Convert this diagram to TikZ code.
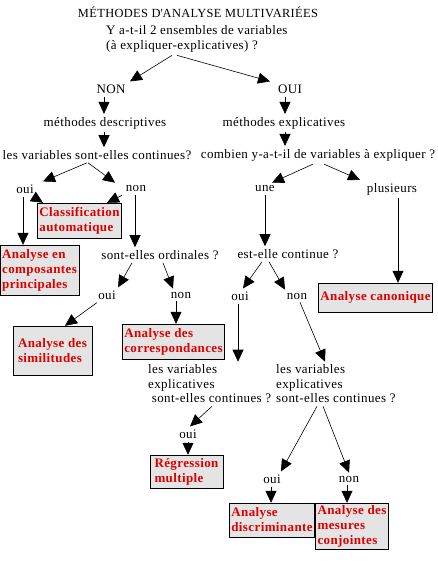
\documentclass[tikz,border=0pt]{standalone}
\usepackage{fontspec}
\setmainfont[LetterSpace=3]{Liberation Serif}
\usetikzlibrary{arrows.meta}
\definecolor{resred}{RGB}{222,0,0}
\definecolor{resfill}{RGB}{228,228,228}

\begin{document}
\begin{tikzpicture}[x=1pt, y=-1pt,
    font=\fontsize{13}{14.5}\selectfont,
    txt/.style={inner xsep=1pt, inner ysep=3pt},
    result/.style={draw=black, fill=resfill, text=resred, align=left,
                   inner sep=2pt, font=\fontsize{13}{15}\selectfont\bfseries},
    arr/.style={-{Triangle[length=12pt,width=11pt]}, semithick}
]
\useasboundingbox (0,0) rectangle (437,580);

\node[txt, font=\fontsize{12.4}{14}\selectfont] (titre) at (198,12) {MÉTHODES D\textquotesingle ANALYSE MULTIVARIÉES};
\node[txt, align=left, anchor=west] (q) at (105,39) {Y a-t-il 2 ensembles de variables\\(à expliquer-explicatives) ?};

\node[txt] (non) at (111,89) {NON};
\node[txt] (oui) at (290,89) {OUI};
\node[txt] (desc) at (105,123) {méthodes descriptives};
\node[txt] (expl) at (284,123) {méthodes explicatives};
\node[txt] (cont) at (97,155) {les variables sont-elles continues?};
\node[txt] (combien) at (318,155) {combien y-a-t-il de variables à expliquer ?};

\node[txt] (ouiA) at (25,189) {oui};
\node[txt] (nonA) at (136,189) {non};
\node[txt] (une) at (265,189) {une};
\node[txt] (plus) at (392,189) {plusieurs};

\node[result, minimum width=79, minimum height=35] (classif) at (79.5,220.5) {Classification\\automatique};
\node[result, minimum width=79, minimum height=50] (acp) at (39.5,270) {Analyse en\\composantes\\principales};
\node[txt] (ordin) at (160,255) {sont-elles ordinales ?};
\node[txt] (estcont) at (288,254) {est-elle continue ?};
\node[result, minimum width=113, minimum height=29] (canon) at (375.5,297.5) {Analyse canonique};

\node[txt] (ouiB) at (107,295) {oui};
\node[txt] (nonB) at (181,295) {non};
\node[txt] (ouiC) at (240,296) {oui};
\node[txt] (nonC) at (297,296) {non};

\node[result, minimum width=79, minimum height=49] (simil) at (52.5,350.5) {Analyse des\\similitudes};
\node[result, minimum width=99, minimum height=35] (corresp) at (173.5,341.5) {Analyse des\\correspondances};
\node[txt, align=left, anchor=west] (explG) at (147,384) {les variables\\explicatives\\\ sont-elles continues ?};
\node[txt, align=left, anchor=west] (explD) at (275,384) {les variables\\explicatives\\sont-elles continues ?};

\node[txt] (ouiD) at (188,434) {oui};
\node[result, minimum width=73, minimum height=33] (regr) at (186.5,471.5) {Régression\\multiple};
\node[txt] (ouiE) at (272,479) {oui};
\node[txt] (nonE) at (349,479) {non};
\node[result, minimum width=82, minimum height=34] (discr) at (272,520) {Analyse\\discriminante};
\node[result, minimum width=72, minimum height=46] (mesures) at (352,526) {Analyse des\\mesures\\conjointes};

\draw[arr] (172,0 |- q.south) -- (130,0 |- non.north);
\draw[arr] (177,0 |- q.south) -- (270,0 |- oui.north);
\draw[arr] (104,0 |- non.south) -- (104,0 |- desc.north);
\draw[arr] (285,0 |- oui.south) -- (285,0 |- expl.north);
\draw[arr] (104,0 |- desc.south) -- (104,0 |- cont.north);
\draw[arr] (285,0 |- expl.south) -- (285,0 |- combien.north);
\draw[arr] (87,0 |- cont.south) -- (43,0 |- ouiA.north);
\draw[arr] (88,0 |- cont.south) -- (115,0 |- nonA.north);
\draw[arr] (33,0 |- ouiA.south) -- (43,0 |- classif.north);
\draw[arr] (122,0 |- nonA.south) -- (107,0 |- classif.north);
\draw[arr] (23,0 |- ouiA.south) -- (23,0 |- acp.north);
\draw[arr] (135,0 |- nonA.south) -- (135,0 |- ordin.north);
\draw[arr] (313,0 |- combien.south) -- (272,0 |- une.north);
\draw[arr] (324,0 |- combien.south) -- (360,0 |- plus.north);
\draw[arr] (265,0 |- une.south) -- (265,0 |- estcont.north);
\draw[arr] (398,0 |- plus.south) -- (398,0 |- canon.north);
\draw[arr] (132,0 |- ordin.south) -- (118,0 |- ouiB.north);
\draw[arr] (163,0 |- ordin.south) -- (173,0 |- nonB.north);
\draw[arr] (262,0 |- estcont.south) -- (243,0 |- ouiC.north);
\draw[arr] (269,0 |- estcont.south) -- (285,0 |- nonC.north);
\draw[arr] (97,0 |- ouiB.south) -- (65,0 |- simil.north);
\draw[arr] (176,0 |- nonB.south) -- (176,0 |- corresp.north);
\draw[arr] (238,0 |- ouiC.south) -- (238,0 |- explG.north);
\draw[arr] (300,0 |- nonC.south) -- (325,0 |- explD.north);
\draw[arr] (212,0 |- explG.south) -- (190,0 |- ouiD.north);
\draw[arr] (188,0 |- ouiD.south) -- (188,0 |- regr.north);
\draw[arr] (317,0 |- explD.south) -- (281,0 |- ouiE.north);
\draw[arr] (323,0 |- explD.south) -- (349,0 |- nonE.north);
\draw[arr] (271,0 |- ouiE.south) -- (271,0 |- discr.north);
\draw[arr] (347,0 |- nonE.south) -- (347,0 |- mesures.north);
\end{tikzpicture}
\end{document}
